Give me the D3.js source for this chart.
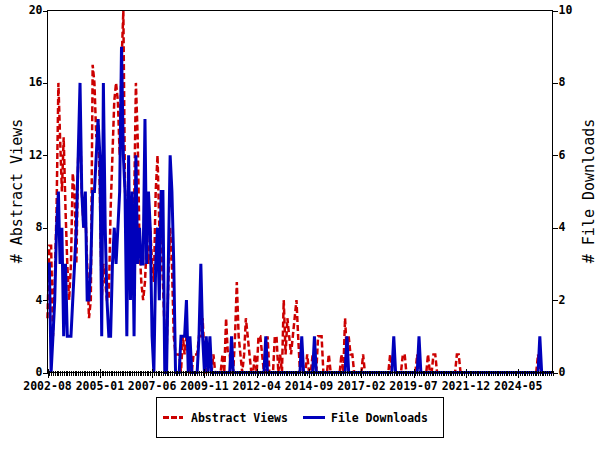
<!DOCTYPE html>
<html>
<head>
<meta charset="utf-8">
<script src="https://cdn.jsdelivr.net/npm/d3@7"></script>
<style>
  html, body { margin: 0; padding: 0; background: #fff; }
  svg { display: block; }
  text { font-family: "DejaVu Sans Mono", "Liberation Mono", monospace; fill: #000; }
</style>
</head>
<body>
<svg id="chart" width="600" height="450"></svg>
<script>
// ---- Data (monthly, starting 2002-08) ----
const startMonth = "2002-08";
const abstractViews = [
  3,7,7,2,5,9,16,13,10,13,9,6,4,6,11,10,6,12,14,10,8,9,6,3,4,17,16,13,14,
  10,4,6,5,4,4,9,12,15,16,15,12,17,20,10,9,7,5,6,9,16,13,7,5,4,5,7,6,8,6,
  5,10,12,8,7,5,2,1,5,8,6,2,1,1,1,0,2,1,2,1,0,0,1,1,1,2,2,3,1,0,0,0,
  0,1,0,0,0,0,1,0,3,1,1,0,0,2,5,2,1,0,1,3,2,1,0,0,1,0,2,2,1,0,0,2,0,0,
  0,2,2,0,1,0,4,1,3,2,1,2,3,4,2,0,1,0,0,1,0,0,1,1,0,2,2,2,0,0,0,1,0,0,
  0,0,0,0,1,0,3,1,2,1,1,0,0,0,0,0,1,0,0,0,0,0,0,0,0,0,0,0,0,0,0,1,0,0,
  0,0,0,0,1,1,0,0,0,0,0,0,1,0,0,0,0,0,1,0,0,1,1,0,0,0,0,0,0,0,0,0,0,0,
  1,1,0,0,0,0,0,0,0,0,0,0,0,0,0,0,0,0,0,0,0,0,0,0,0,0,0,0,0,0,0,0,0,0,
  0,0,0,0,0,0,0,0,0,0,0,1,0,0,0,0,0,0,0,0
];
const fileDownloads = [
  3,3,0,1,2,4,5,3,4,1,3,1,1,1,2,3,4,6,8,5,4,5,2,2,3,5,5,6,7,
  6,1,8,4,2,1,1,3,4,3,4,5,9,6,5,1,6,2,5,1,6,3,4,3,3,7,3,5,4,1,
  0,3,4,2,5,5,0,0,3,6,5,3,0,0,0,1,1,1,2,0,1,0,0,0,0,1,3,1,0,1,0,
  1,0,0,0,0,0,0,0,0,0,0,0,1,0,0,0,0,0,0,0,0,0,0,0,0,0,0,0,0,0,0,1,0,0,
  0,0,0,0,0,0,0,0,0,0,0,0,0,0,0,0,0,1,0,0,0,0,0,0,1,0,0,0,0,0,0,0,0,0,
  0,0,0,0,0,0,0,0,1,0,0,0,0,0,0,0,0,0,0,0,0,0,0,0,0,0,0,0,0,0,0,0,0,0,
  1,0,0,0,0,0,0,0,0,0,0,0,0,0,1,0,0,0,0,0,0,0,0,0,0,0,0,0,0,0,0,0,0,0,
  0,0,0,0,0,0,0,0,0,0,0,0,0,0,0,0,0,0,0,0,0,0,0,0,0,0,0,0,0,0,0,0,0,0,
  0,0,0,0,0,0,0,0,0,0,0,0,0,1,0,0,0,0,0,0,0
];
const xTickLabels = ["2002-08","2005-01","2007-06","2009-11","2012-04","2014-09","2017-02","2019-07","2021-12","2024-05"];
const leftTicks = [0,4,8,12,16,20];
const rightTicks = [0,2,4,6,8,10];
const seriesNames = ["Abstract Views", "File Downloads"];
const axisTitles = ["# Abstract Views", "# File Downloads"];

// ---- Layout ----
const svg = d3.select("#chart");
const L = 47.5, R = 552.5, T = 10.5, B = 372.5;
const parse = d3.timeParse("%Y-%m");
const start = parse(startMonth);
const n = Math.max(abstractViews.length, fileDownloads.length);
const dates = d3.range(n).map(i => d3.timeMonth.offset(start, i));

const x = d3.scaleTime().domain([dates[0], dates[n - 1]]).range([L, R]);
const yL = d3.scaleLinear().domain([0, 20]).range([B, T]);
const yR = d3.scaleLinear().domain([0, 10]).range([B, T]);

const labelFont = "bold 11.5px 'DejaVu Sans Mono', monospace";

// lines
const lineL = d3.line().x((d, i) => x(dates[i])).y(d => yL(d));
const lineR = d3.line().x((d, i) => x(dates[i])).y(d => yR(d));

svg.append("path")
  .attr("d", lineL(abstractViews))
  .attr("fill", "none")
  .attr("stroke", "#cc0000")
  .attr("stroke-width", 2.5)
  .attr("stroke-dasharray", "6,3");

svg.append("path")
  .attr("d", lineR(fileDownloads))
  .attr("fill", "none")
  .attr("stroke", "#0000bb")
  .attr("stroke-width", 3);

// frame
svg.append("rect")
  .attr("x", L).attr("y", T).attr("width", R - L).attr("height", B - T)
  .attr("fill", "none").attr("stroke", "#000").attr("stroke-width", 1)
  .attr("shape-rendering", "crispEdges");

// x axis: monthly minor ticks, labelled major ticks
const gx = svg.append("g").attr("shape-rendering", "crispEdges");
const majorDates = xTickLabels.map(parse);
const majorSet = new Set(majorDates.map(d => +d));
gx.selectAll("line.minor")
  .data(dates.filter(d => !majorSet.has(+d)))
  .join("line")
  .attr("x1", d => Math.round(x(d)) + 0.5).attr("x2", d => Math.round(x(d)) + 0.5)
  .attr("y1", B - 2).attr("y2", B + 3)
  .attr("stroke", "#000");
gx.selectAll("line.major")
  .data(majorDates)
  .join("line")
  .attr("x1", d => Math.round(x(d)) + 0.5).attr("x2", d => Math.round(x(d)) + 0.5)
  .attr("y1", B - 4).attr("y2", B + 5)
  .attr("stroke", "#000");
svg.append("g").selectAll("text")
  .data(xTickLabels)
  .join("text")
  .attr("x", d => x(parse(d)))
  .attr("y", B + 17.5)
  .attr("text-anchor", "middle")
  .style("font", labelFont)
  .text(d => d);

// left axis
const gl = svg.append("g").attr("shape-rendering", "crispEdges");
gl.selectAll("line").data(leftTicks).join("line")
  .attr("x1", L - 5).attr("x2", L)
  .attr("y1", d => Math.round(yL(d)) + 0.5).attr("y2", d => Math.round(yL(d)) + 0.5)
  .attr("stroke", "#000");
svg.append("g").selectAll("text").data(leftTicks).join("text")
  .attr("x", L - 5).attr("y", d => yL(d) + 3.5)
  .attr("text-anchor", "end")
  .style("font", labelFont)
  .text(d => d);

// right axis
const gr = svg.append("g").attr("shape-rendering", "crispEdges");
gr.selectAll("line").data(rightTicks).join("line")
  .attr("x1", R).attr("x2", R + 5)
  .attr("y1", d => Math.round(yR(d)) + 0.5).attr("y2", d => Math.round(yR(d)) + 0.5)
  .attr("stroke", "#000");
svg.append("g").selectAll("text").data(rightTicks).join("text")
  .attr("x", R + 6).attr("y", d => yR(d) + 3.5)
  .attr("text-anchor", "start")
  .style("font", labelFont)
  .text(d => d);

// axis titles
const titleFont = "15px 'DejaVu Sans Mono', monospace";
svg.append("text")
  .attr("transform", "translate(22,191) rotate(-90)")
  .attr("text-anchor", "middle")
  .style("font", titleFont)
  .text(axisTitles[0]);
svg.append("text")
  .attr("transform", "translate(594,191) rotate(-90)")
  .attr("text-anchor", "middle")
  .style("font", titleFont)
  .text(axisTitles[1]);

// legend
const lg = svg.append("g");
lg.append("rect")
  .attr("x", 156.5).attr("y", 397.5).attr("width", 287).attr("height", 40)
  .attr("fill", "#fff").attr("stroke", "#000").attr("stroke-width", 1)
  .attr("shape-rendering", "crispEdges");
lg.append("line")
  .attr("x1", 163).attr("x2", 183).attr("y1", 417.5).attr("y2", 417.5)
  .attr("stroke", "#cc0000").attr("stroke-width", 3).attr("stroke-dasharray", "6,2");
lg.append("text").attr("x", 191).attr("y", 422)
  .style("font", labelFont).text(seriesNames[0]);
lg.append("line")
  .attr("x1", 303).attr("x2", 325).attr("y1", 417.5).attr("y2", 417.5)
  .attr("stroke", "#0000bb").attr("stroke-width", 3);
lg.append("text").attr("x", 331).attr("y", 422)
  .style("font", labelFont).text(seriesNames[1]);
</script>
</body>
</html>
